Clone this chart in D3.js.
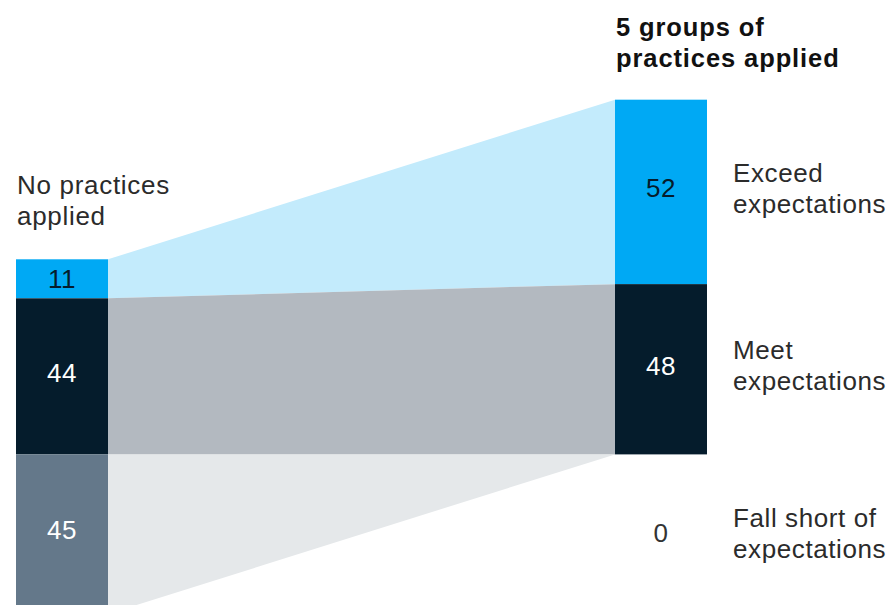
<!DOCTYPE html>
<html>
<head>
<meta charset="utf-8">
<script src="https://cdn.jsdelivr.net/npm/d3@7"></script>
<style>
  html, body { margin: 0; padding: 0; background: #ffffff; }
  svg { display: block; }
  text { font-family: "Liberation Sans", Arial, Helvetica, sans-serif; }
</style>
</head>
<body>
<svg id="chart" width="891" height="605"></svg>
<script>
// ---- Data ----
const categories = ["Exceed expectations", "Meet expectations", "Fall short of expectations"];
const labelLines = [["Exceed", "expectations"], ["Meet", "expectations"], ["Fall short of", "expectations"]];
const columns = ["No practices applied", "5 groups of practices applied"];
const columnTitleLines = [["No practices", "applied"], ["5 groups of", "practices applied"]];
const noPractices = [11, 44, 45];
const fiveGroups = [52, 48, 0];

// ---- Styles ----
const barColors = ["#00a9f4", "#051c2c", "#64788a"];
const flowColors = ["#c3ebfc", "#b3b9c0", "#e5e8ea"];
const numColors = ["#051c2c", "#ffffff", "#ffffff"];

const svg = d3.select("#chart");
const W = 891, H = 605;
const barW = 92;

const x = d3.scaleLinear().domain([0, 1]).range([16, 615]);
const h = d3.scaleLinear().domain([0, 100]).range([0, 354.7]);

const leftTop = 259.3;
// right column sits so its bottom aligns with the left "fall short" boundary
const leftTotalAbove = d3.sum(noPractices.slice(0, 2));
const rightTop = leftTop + h(leftTotalAbove) - h(d3.sum(fiveGroups));

function stack(vals, top) {
  let acc = 0;
  return vals.map((v, i) => {
    const y0 = top + h(acc);
    acc += v;
    const y1 = top + h(acc);
    return { i, v, y0, y1 };
  });
}
const L = stack(noPractices, leftTop);
const R = stack(fiveGroups, rightTop);

// ---- Flows ----
const xl = x(0) + barW, xr = x(1);
svg.append("g").selectAll("path")
  .data(categories)
  .join("path")
  .attr("d", (d, i) => d3.line()([[xl, L[i].y0], [xr, R[i].y0], [xr, R[i].y1], [xl, L[i].y1]]) + "Z")
  .attr("fill", (d, i) => flowColors[i]);

// ---- Bars ----
[L, R].forEach((segs, c) => {
  svg.append("g").selectAll("rect")
    .data(segs.filter(s => s.v > 0))
    .join("rect")
    .attr("x", x(c))
    .attr("y", s => s.y0)
    .attr("width", barW)
    .attr("height", s => s.y1 - s.y0)
    .attr("fill", s => barColors[s.i]);
});

// ---- Numbers ----
const numOffset = -4;
function centerOf(s) {
  if (s.v > 0) return (s.y0 + Math.min(s.y1, H + 9)) / 2 + numOffset;
  return s.y0 + h(noPractices[s.i]) / 2 - 1;
}
[L, R].forEach((segs, c) => {
  svg.append("g").selectAll("text")
    .data(segs)
    .join("text")
    .attr("x", x(c) + barW / 2)
    .attr("y", s => centerOf(s) + 9.3 + (s.v > 0 && s.v < 20 ? 4 : 0))
    .attr("text-anchor", "middle")
    .attr("font-size", 26)
    .attr("letter-spacing", 0.5)
    .attr("fill", s => s.v > 0 ? numColors[s.i] : "#333333")
    .text(s => s.v);
});

// ---- Right-side category labels ----
const labG = svg.append("g");
R.forEach((s, i) => {
  const yc = centerOf(s);
  const t = labG.append("text")
    .attr("x", 733)
    .attr("y", yc - 6)
    .attr("font-size", 26)
    .attr("letter-spacing", 0.6)
    .attr("fill", "#2b2b2b");
  labelLines[i].forEach((ln, j) => {
    t.append("tspan").attr("x", 733).attr("dy", j === 0 ? 0 : 31).text(ln);
  });
});

// ---- Column titles ----
const titleG = svg.append("g");
// left column
const t0 = titleG.append("text")
  .attr("x", 17)
  .attr("y", leftTop - 34 - 31.5)
  .attr("font-size", 26)
  .attr("letter-spacing", 0.7)
  .attr("fill", "#2b2b2b");
columnTitleLines[0].forEach((ln, j) => {
  t0.append("tspan").attr("x", 17).attr("dy", j === 0 ? 0 : 31.5).text(ln);
});
// right column
const t1 = titleG.append("text")
  .attr("x", 616)
  .attr("y", rightTop - 33 - 31)
  .attr("font-size", 25.5)
  .attr("font-weight", "bold")
  .attr("letter-spacing", 0.9)
  .attr("fill", "#111111");
columnTitleLines[1].forEach((ln, j) => {
  t1.append("tspan").attr("x", 616).attr("dy", j === 0 ? 0 : 31).text(ln);
});
</script>
</body>
</html>
